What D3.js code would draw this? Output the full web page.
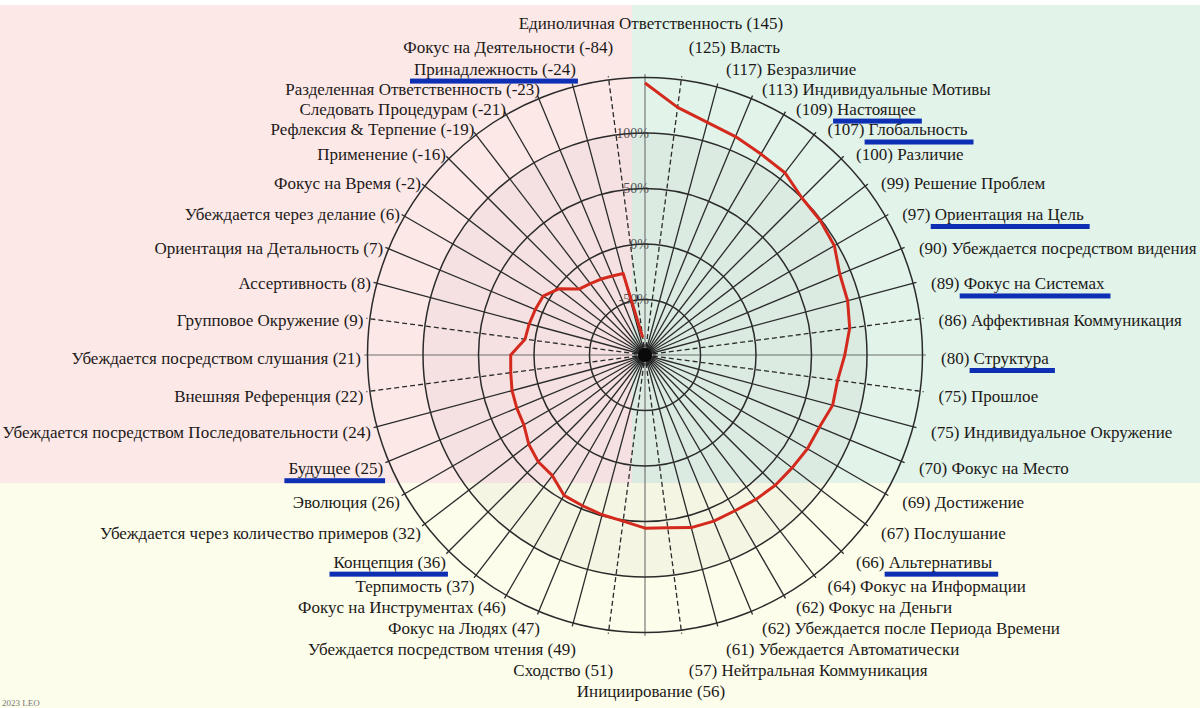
<!DOCTYPE html>
<html>
<head>
<meta charset="utf-8">
<script src="https://cdn.jsdelivr.net/npm/d3@7"></script>
<style>
html,body{margin:0;padding:0;background:#fff;}
svg{display:block;}
text{font-family:"Liberation Serif","Times New Roman",serif;}
</style>
</head>
<body>
<svg id="chart" width="1200" height="708"></svg>
<script>
// ---- data (clockwise from top) ----
const categories = [
  "Единоличная Ответственность","Власть","Безразличие","Индивидуальные Мотивы","Настоящее",
  "Глобальность","Различие","Решение Проблем","Ориентация на Цель","Убеждается посредством видения",
  "Фокус на Системах","Аффективная Коммуникация","Структура","Прошлое","Индивидуальное Окружение",
  "Фокус на Место","Достижение","Послушание","Альтернативы","Фокус на Информации",
  "Фокус на Деньги","Убеждается после Периода Времени","Убеждается Автоматически","Нейтральная Коммуникация",
  "Инициирование","Сходство","Убеждается посредством чтения","Фокус на Людях","Фокус на Инструментах",
  "Терпимость","Концепция","Убеждается через количество примеров","Эволюция","Будущее",
  "Убеждается посредством Последовательности","Внешняя Референция","Убеждается посредством слушания",
  "Групповое Окружение","Ассертивность","Ориентация на Детальность","Убеждается через делание",
  "Фокус на Время","Применение","Рефлексия & Терпение","Следовать Процедурам",
  "Разделенная Ответственность","Принадлежность","Фокус на Деятельности"
];
const values = [
  145,125,117,113,109,
  107,100,99,97,90,
  89,86,80,75,75,
  70,69,67,66,64,
  62,62,61,57,
  56,51,49,47,46,
  37,36,32,26,25,
  24,22,21,
  9,8,7,6,
  -2,-16,-19,-21,
  -23,-24,-84
];
const ringTicks = [-50, 0, 50, 100, 150];
const ringTickLabels = ["-50%", "0%", "50%", "100%", ""];
const highlighted = ["Принадлежность","Настоящее","Глобальность","Ориентация на Цель",
  "Фокус на Системах","Структура","Будущее","Концепция","Альтернативы"];
const watermark = "2023 LEO";

// ---- layout ----
const W = 1200, H = 708;
const cx = 645, cy = 355;
const svg = d3.select("#chart");

// background regions
svg.append("rect").attr("x",0).attr("y",0).attr("width",W).attr("height",H).attr("fill","#ffffff");
svg.append("rect").attr("x",0).attr("y",5).attr("width",632).attr("height",478).attr("fill","#fde8e8");
svg.append("rect").attr("x",632).attr("y",5).attr("width",W-632).attr("height",478).attr("fill","#e2f3ea");
svg.append("rect").attr("x",0).attr("y",483).attr("width",W).attr("height",H-483).attr("fill","#fdfdec");

const n = categories.length;
const angle = d3.scaleLinear().domain([0, n]).range([0, 2*Math.PI]);
const r = d3.scaleLinear().domain([-100, 150]).range([0, 277.5]);

const g = svg.append("g").attr("transform", `translate(${cx},${cy})`);

// shaded inner disk up to 100%
g.append("circle").attr("r", r(100)).attr("fill", "rgba(60,60,60,0.045)");

// ring labels (drawn under the grid lines)
g.selectAll("text.ringlabel").data(ringTicks).join("text")
  .attr("class","ringlabel")
  .attr("x", 4)
  .attr("y", d => -r(d))
  .attr("dy","0.35em")
  .attr("text-anchor","end")
  .attr("font-size", 14)
  .attr("fill","#555")
  .text((d,i) => ringTickLabels[i]);

// spokes
const spokeEnd = 281;
g.selectAll("line.spoke").data(d3.range(n)).join("line")
  .attr("class","spoke")
  .attr("x1",0).attr("y1",0)
  .attr("x2", i => spokeEnd*Math.sin(angle(i)))
  .attr("y2", i => -spokeEnd*Math.cos(angle(i)))
  .attr("stroke", i => (i % 12 === 0) ? "#6e6e6e" : "#2b2b2b")
  .attr("stroke-width", i => (i % 12 === 0) ? 1.1 : 1.3)
  .attr("stroke-dasharray", i => (i % 12 === 1 || i % 12 === 11) ? "5,3" : null);

// rings
g.selectAll("circle.ring").data(ringTicks).join("circle")
  .attr("class","ring")
  .attr("r", d => r(d))
  .attr("fill","none")
  .attr("stroke","#2b2b2b")
  .attr("stroke-width",1.5);

// data line (open)
const line = d3.lineRadial()
  .angle((d,i) => angle(i))
  .radius(d => r(d))
  .curve(d3.curveLinear);
g.append("path")
  .datum(values)
  .attr("d", line)
  .attr("fill","none")
  .attr("stroke","#d42a1e")
  .attr("stroke-width",3)
  .attr("stroke-linejoin","round");

// center dot
g.append("circle").attr("r", 11).attr("fill","rgba(0,0,0,0.25)");
g.append("circle").attr("r", 7).attr("fill","#0a0a0a");

// ---- labels ----
const lcx = 651, lcy = 358, LRx = 290, LRy = 288;
const labels = d3.range(n).map(i => {
  const a = angle(i);
  const s = Math.sin(a), c = Math.cos(a);
  let anchor = "middle";
  if (s > 1e-6) anchor = "start"; else if (s < -1e-6) anchor = "end";
  return {i, a, x: lcx + LRx*s, y: lcy - LRy*c, anchor};
});
// de-overlap near the top and bottom
const gapTop = 20, gapBot = 21;
for (let k = n/4 - 1; k >= 0; k--) {
  const cur = labels[k], below = labels[k+1];
  const gap = gapTop + (k <= 1 ? 2 : 0) + (k === 0 ? 2 : 0);
  if (cur.y > below.y - gap) cur.y = below.y - gap;
}
for (let k = n/4 + 1; k <= n/2; k++) {
  const cur = labels[k], above = labels[k-1];
  if (cur.y < above.y + gapBot) cur.y = above.y + gapBot;
}
// mirror onto left side
for (let k = 1; k < n/2; k++) labels[n-k].y = labels[k].y;

const lg = svg.append("g");
const texts = lg.selectAll("text.cat").data(labels).join("text")
  .attr("class","cat")
  .attr("x", d => d.x)
  .attr("y", d => d.y)
  .attr("dy","0.35em")
  .attr("text-anchor", d => d.anchor)
  .attr("font-size", 17)
  .attr("fill","#1c1a18");
texts.each(function(d){
  const t = d3.select(this);
  const name = categories[d.i], v = values[d.i];
  if (d.anchor === "start") {
    t.append("tspan").attr("class","val").text(`(${v}) `);
    t.append("tspan").attr("class","nm").text(name);
  } else {
    t.append("tspan").attr("class","nm").text(name);
    t.append("tspan").attr("class","val").text(` (${v})`);
  }
});

// blue highlight underlines
texts.filter(d => highlighted.includes(categories[d.i])).each(function(d){
  let box;
  if (d.anchor === "start") {
    const nm = d3.select(this).select("tspan.nm").node();
    const ext = nm.getNumberOfChars();
    const st = nm.getStartPositionOfChar(0).x;
    const en = nm.getEndPositionOfChar(ext-1).x;
    box = {x: st - 4, w: en - st + 10};
  } else {
    const bb = this.getBBox();
    box = {x: bb.x - 4, w: bb.width + 6};
  }
  lg.append("rect")
    .attr("x", box.x).attr("y", d.y + 10)
    .attr("width", box.w).attr("height", 5)
    .attr("fill", "#0c2fb4");
});

// watermark
svg.append("text").attr("x", 2).attr("y", 706).attr("font-size", 9)
  .attr("fill","#777").attr("font-family","Liberation Sans, sans-serif").text(watermark);
</script>
</body>
</html>
